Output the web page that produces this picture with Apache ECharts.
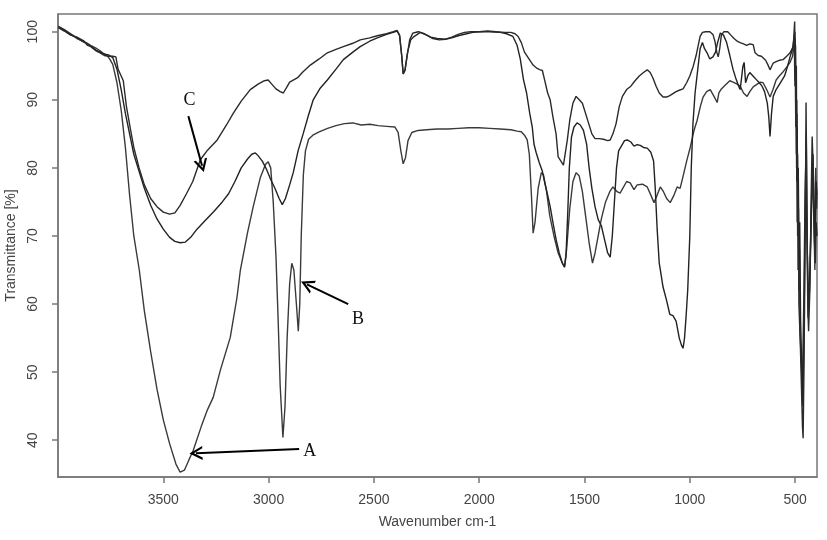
<!DOCTYPE html>
<html>
<head>
<meta charset="utf-8">
<script src="https://cdn.jsdelivr.net/npm/echarts@6/dist/echarts.min.js"></script>
<style>html,body{margin:0;padding:0;background:#fff}#c{width:827px;height:540px}</style>
</head>
<body>
<div id="c"></div>
<script>
// ---- data: [wavenumber (cm-1), transmittance (%)] ----
const curveA = [[3998,100.7],[3970,100.2],[3940,99.6],[3910,99.0],[3880,98.6],[3860,98.3],[3840,97.9],[3820,97.6],[3800,97.2],[3785,96.8],[3770,96.6],[3755,96.0],[3740,95.2],[3720,92.5],[3700,88.5],[3680,83],[3660,76],[3640,70],[3614,65],[3590,59],[3560,53],[3530,47.5],[3500,43],[3470,39.5],[3440,36.5],[3420,35.3],[3400,35.6],[3380,37],[3358,38.5],[3320,42],[3290,44.5],[3263,46.3],[3229,50.3],[3182,55.1],[3150,61],[3134,65],[3100,70.5],[3073,74.3],[3040,78.5],[3015,80.5],[3002,80.9],[2990,80],[2978,75],[2965,67],[2955,58],[2945,48],[2932,40.4],[2922,45],[2912,55],[2900,63],[2890,66],[2880,65],[2868,60],[2859,56],[2852,60],[2845,70],[2835,79],[2825,82.5],[2810,84.2],[2790,84.8],[2760,85.3],[2720,85.8],[2680,86.2],[2640,86.5],[2600,86.6],[2560,86.3],[2520,86.4],[2480,86.2],[2440,86.1],[2400,86],[2385,85.2],[2372,82.5],[2361,80.6],[2350,81.5],[2338,84],[2320,85.2],[2290,85.5],[2250,85.6],[2200,85.7],[2150,85.7],[2100,85.8],[2050,85.9],[2000,85.9],[1950,85.8],[1900,85.7],[1850,85.6],[1820,85.4],[1800,85.3],[1785,84.8],[1772,84.1],[1762,82],[1752,76],[1744,70.4],[1735,72],[1720,77],[1705,79.3],[1695,79],[1680,76.5],[1665,73],[1645,70],[1625,67.5],[1605,66],[1595,65.5],[1585,68],[1570,74],[1555,78],[1540,79.3],[1525,78.8],[1510,76.5],[1495,73],[1478,69],[1462,66],[1450,67.5],[1435,70],[1420,72.5],[1400,75],[1380,76.5],[1365,77.2],[1345,76.5],[1331,76.3],[1300,78],[1283,77.8],[1265,76.8],[1250,77.5],[1225,77.6],[1202,77.2],[1185,76],[1170,74.9],[1155,76],[1140,77.2],[1125,76.5],[1110,75.5],[1093,74.9],[1075,76],[1060,77.2],[1046,77],[1030,79],[1015,81],[998,83],[980,85.5],[965,87],[950,89],[937,90.4],[920,91.2],[903,91.5],[885,90.5],[870,89.6],[862,91],[850,91.6],[830,92.2],[810,92.8],[794,92.6],[775,92.3],[761,92],[745,91],[728,90.5],[715,91.2],[699,91.9],[680,92.3],[665,92.6],[652,92.5],[635,91.5],[619,90.4],[605,91.5],[590,92.9],[575,93.5],[560,94],[540,94.8],[524,95.5],[512,96.4],[504,99],[501,92],[499,97],[497,86],[495,93],[493,80],[491,88],[488,70],[486,78],[482,62],[479,68],[477,56],[471,52],[466,48],[460,58],[455,70],[450,80],[445,72],[440,65],[434,60],[428,66],[422,74],[416,80],[411,72],[406,65],[402,80],[398,74],[396,76]];

const curveB = [[3998,100.6],[3970,100.1],[3940,99.5],[3910,99.2],[3880,98.7],[3860,98.0],[3840,97.8],[3820,97.3],[3800,97.0],[3780,96.7],[3760,96.6],[3740,96.2],[3720,94.5],[3700,91.5],[3680,88],[3660,85],[3640,82],[3615,79.5],[3590,77],[3560,74.5],[3530,72.5],[3500,71],[3470,69.8],[3445,69.2],[3420,69],[3395,69.1],[3370,69.8],[3340,71],[3300,72.3],[3260,73.6],[3220,75],[3190,76.2],[3160,78],[3130,80],[3100,81.3],[3080,82],[3063,82.2],[3050,81.8],[3030,81],[3010,79.8],[2990,78.3],[2970,77],[2950,75.5],[2935,74.6],[2920,75.5],[2900,77.5],[2883,79.3],[2860,82.5],[2835,85.1],[2810,87.8],[2788,90],[2755,91.7],[2721,92.9],[2680,94.5],[2645,95.9],[2600,97],[2565,97.8],[2520,98.6],[2484,99.1],[2440,99.6],[2408,99.9],[2390,100.1],[2378,99.4],[2368,96.5],[2361,93.8],[2352,94.3],[2342,96.5],[2330,98.8],[2315,99.8],[2290,100],[2260,99.7],[2230,99.2],[2200,99.0],[2160,98.9],[2130,99.1],[2100,99.4],[2060,99.7],[2030,99.9],[2000,100],[1950,100],[1900,99.9],[1870,99.7],[1840,99.3],[1820,98],[1805,96],[1790,93],[1775,91],[1760,88],[1748,86],[1740,83.5],[1730,82.3],[1715,80.8],[1700,79.5],[1690,78],[1675,76],[1663,74.3],[1650,72],[1635,69.5],[1620,67.5],[1605,66],[1595,65.4],[1588,67],[1580,73],[1572,80],[1562,84.5],[1550,86],[1535,86.6],[1520,86.3],[1505,85.5],[1490,83.5],[1478,80],[1465,77],[1450,74.3],[1435,72.4],[1420,71.5],[1405,69.5],[1390,67.5],[1378,66.9],[1368,70],[1358,75],[1348,80],[1338,82.5],[1325,83.2],[1310,84],[1297,84.1],[1280,83.8],[1265,83.2],[1250,83.4],[1235,83.3],[1220,83],[1202,82.9],[1185,82.3],[1172,81],[1164,77],[1155,71],[1145,66],[1127,62.5],[1110,60.5],[1095,58.5],[1080,58.3],[1065,57.5],[1050,55],[1040,54],[1032,53.5],[1025,55],[1018,58],[1010,62],[1000,70],[993,80],[985,86.5],[975,91],[962,94.5],[951,97.5],[940,98.4],[930,97.5],[918,96.9],[905,96],[890,96.3],[878,97],[868,98.4],[855,99.8],[840,99.5],[825,98.4],[810,96.5],[795,94.5],[780,93],[768,92],[761,91.5],[755,93],[748,94.9],[742,95.5],[735,92.5],[725,93.5],[715,94],[700,93.5],[685,93],[670,92.5],[657,92],[645,91.2],[632,89.5],[625,87.5],[619,84.6],[612,88],[604,90.5],[590,91.5],[570,92.5],[550,93.5],[535,95],[524,96.3],[512,97.5],[501,100],[499,93],[498,98],[496,88],[494,95],[492,78],[490,86],[487,72],[485,80],[481,66],[478,72],[474,58],[468,50],[464,45],[458,55],[452,75],[447,85],[443,70],[438,58],[432,62],[426,70],[420,78],[415,82],[410,75],[405,68],[400,78],[396,76]];

const curveC = [[3998,100.8],[3970,100.3],[3940,99.7],[3910,99.1],[3880,98.5],[3860,98.2],[3840,97.7],[3820,97.2],[3800,96.9],[3780,96.5],[3760,96.4],[3740,96.4],[3725,96.3],[3715,94.5],[3700,93.5],[3690,92.8],[3675,89],[3655,85.5],[3640,83],[3615,80],[3590,77.5],[3560,75.5],[3530,74.3],[3500,73.5],[3470,73.2],[3445,73.4],[3420,74.5],[3390,76.2],[3360,78],[3324,81.2],[3290,82.6],[3244,84.1],[3200,86.3],[3168,88],[3130,89.8],[3087,91.5],[3050,92.3],[3020,92.8],[3002,92.9],[2985,92.3],[2965,91.6],[2945,91.2],[2930,91],[2915,91.8],[2900,92.6],[2883,92.9],[2860,93.3],[2840,94],[2802,95.1],[2760,96],[2721,96.9],[2680,97.4],[2645,97.8],[2600,98.3],[2565,98.8],[2520,99.1],[2484,99.4],[2440,99.7],[2408,100],[2390,100.2],[2378,99.5],[2368,96.5],[2361,93.8],[2352,94.5],[2340,97],[2325,98.8],[2313,99.2],[2280,99.9],[2250,99.5],[2220,99.0],[2190,98.8],[2160,98.9],[2130,99.2],[2100,99.6],[2070,99.9],[2040,100],[2000,100],[1960,100.1],[1920,100],[1880,99.9],[1850,99.9],[1830,99.7],[1815,99.3],[1800,98.4],[1785,97],[1770,96.3],[1755,95.6],[1744,95.1],[1725,94.6],[1710,94.4],[1700,94.3],[1690,93],[1675,91],[1663,90],[1650,87.5],[1635,85],[1625,81.6],[1612,81],[1600,80.4],[1592,80.4],[1582,84],[1570,87],[1555,89.5],[1540,90.5],[1525,90],[1510,89.5],[1495,88],[1480,86.5],[1465,85],[1450,84.3],[1430,84.3],[1410,84.2],[1390,84],[1378,84.1],[1365,85],[1350,86.5],[1335,89],[1320,90.5],[1300,91.5],[1280,92],[1260,92.8],[1240,93.5],[1220,94],[1202,94.4],[1188,94],[1175,93.2],[1160,92],[1145,91],[1127,90.4],[1110,90.4],[1095,90.6],[1080,90.9],[1065,91.2],[1050,91.4],[1032,91.6],[1015,92.5],[1000,93.5],[984,94.9],[970,96.5],[960,98],[951,99.3],[940,99.9],[925,100],[905,100],[890,99.6],[880,98.5],[872,97],[865,96.3],[858,97.5],[850,99.5],[838,100],[820,100],[805,99.5],[790,99],[775,98.6],[761,98.4],[745,98.2],[730,98],[715,98.2],[699,98.1],[690,96.9],[675,96.5],[660,96.4],[652,96.3],[640,95.8],[630,95.2],[619,94.4],[610,95],[604,95.4],[590,95.6],[575,95.8],[557,95.9],[540,96.4],[524,96.9],[509,97.8],[502,101.5],[500,94],[499,99],[497,88],[496,95],[494,82],[492,90],[490,72],[488,82],[486,65],[484,74],[482,60],[476,55],[470,48],[465,42],[462,40.3],[458,50],[452,70],[448,89.6],[444,75],[440,60],[436,56],[430,62],[424,75],[419,84.6],[414,80],[409,70],[404,66],[400,72],[396,70]];

const xTicks = [500, 1000, 1500, 2000, 2500, 3000, 3500];
const yTicks = [40, 50, 60, 70, 80, 90, 100];

// annotations: label text position and arrow [from, to] in data units
const labels = [
  { text: 'A', at: [2805, 38.4] },
  { text: 'B', at: [2575, 57.8] },
  { text: 'C', at: [3375, 90.0] }
];
const arrows = [
  [[2855, 38.7], [3345, 38.1]],
  [[2622, 60.0], [2818, 62.9]],
  [[3381, 87.6], [3316, 80.3]]
];

const chevron = 'path://M0,12 L6,0 L12,12 L10,12 L6,4.2 L2,12 Z';
const font = 'Liberation Sans, Arial, sans-serif';

const chart = echarts.init(document.getElementById('c'), null, { renderer: 'canvas' });
const mkSeries = (name, data, col) => ({
  name, type: 'line', data, symbol: 'none', smooth: false,
  lineStyle: { color: col, width: 1.4 }, z: 3
});

chart.setOption({
  animation: false,
  backgroundColor: '#fff',
  grid: { left: 58, right: 10, top: 14, bottom: 63, show: true, borderColor: '#777', borderWidth: 1.5, containLabel: false, outerBoundsMode: 'none' },
  xAxis: {
    type: 'value', inverse: true, min: 396, max: 4000,
    name: 'Wavenumber cm-1', nameLocation: 'middle', nameGap: 38,
    nameTextStyle: { fontFamily: font, fontSize: 14, color: '#444' },
    axisLine: { show: true, lineStyle: { color: '#777', width: 1.5 } },
    axisTick: { show: true, length: 6, lineStyle: { color: '#777', width: 1.5 }, customValues: xTicks },
    axisLabel: { customValues: xTicks, margin: 16, formatter: v => String(v), fontFamily: font, fontSize: 14, color: '#444' },
    splitLine: { show: false }
  },
  yAxis: {
    type: 'value', min: 34.6, max: 102.6,
    name: 'Transmittance [%]', nameLocation: 'middle', nameGap: 40,
    nameTextStyle: { fontFamily: font, fontSize: 14, color: '#444' },
    axisLine: { show: true, lineStyle: { color: '#777', width: 1.5 } },
    axisTick: { show: true, length: 6, lineStyle: { color: '#777', width: 1.5 }, customValues: yTicks },
    axisLabel: { customValues: yTicks, rotate: 90, margin: 18, formatter: v => String(v), fontFamily: font, fontSize: 14, color: '#444' },
    splitLine: { show: false }
  },
  series: [
    mkSeries('A', curveA, '#3a3a3a'),
    mkSeries('B', curveB, '#222'),
    mkSeries('C', curveC, '#2a2a2a'),
    {
      name: 'annot', type: 'line', data: [], symbol: 'none', z: 5,
      markLine: {
        silent: true, animation: false,
        symbol: ['none', chevron], symbolSize: [14, 13],
        lineStyle: { color: '#000', width: 2, type: 'solid' },
        label: { show: false },
        data: arrows.map(a => [{ coord: a[0] }, { coord: a[1] }])
      },
      markPoint: {
        silent: true, animation: false, symbol: 'circle', symbolSize: 1,
        itemStyle: { color: 'rgba(0,0,0,0)' },
        label: { show: true, position: 'inside', color: '#111', fontFamily: 'Liberation Serif, Times New Roman, serif', fontSize: 18 },
        data: labels.map(l => ({ coord: l.at, value: l.text, label: { formatter: l.text } }))
      }
    }
  ]
});
</script>
</body>
</html>
